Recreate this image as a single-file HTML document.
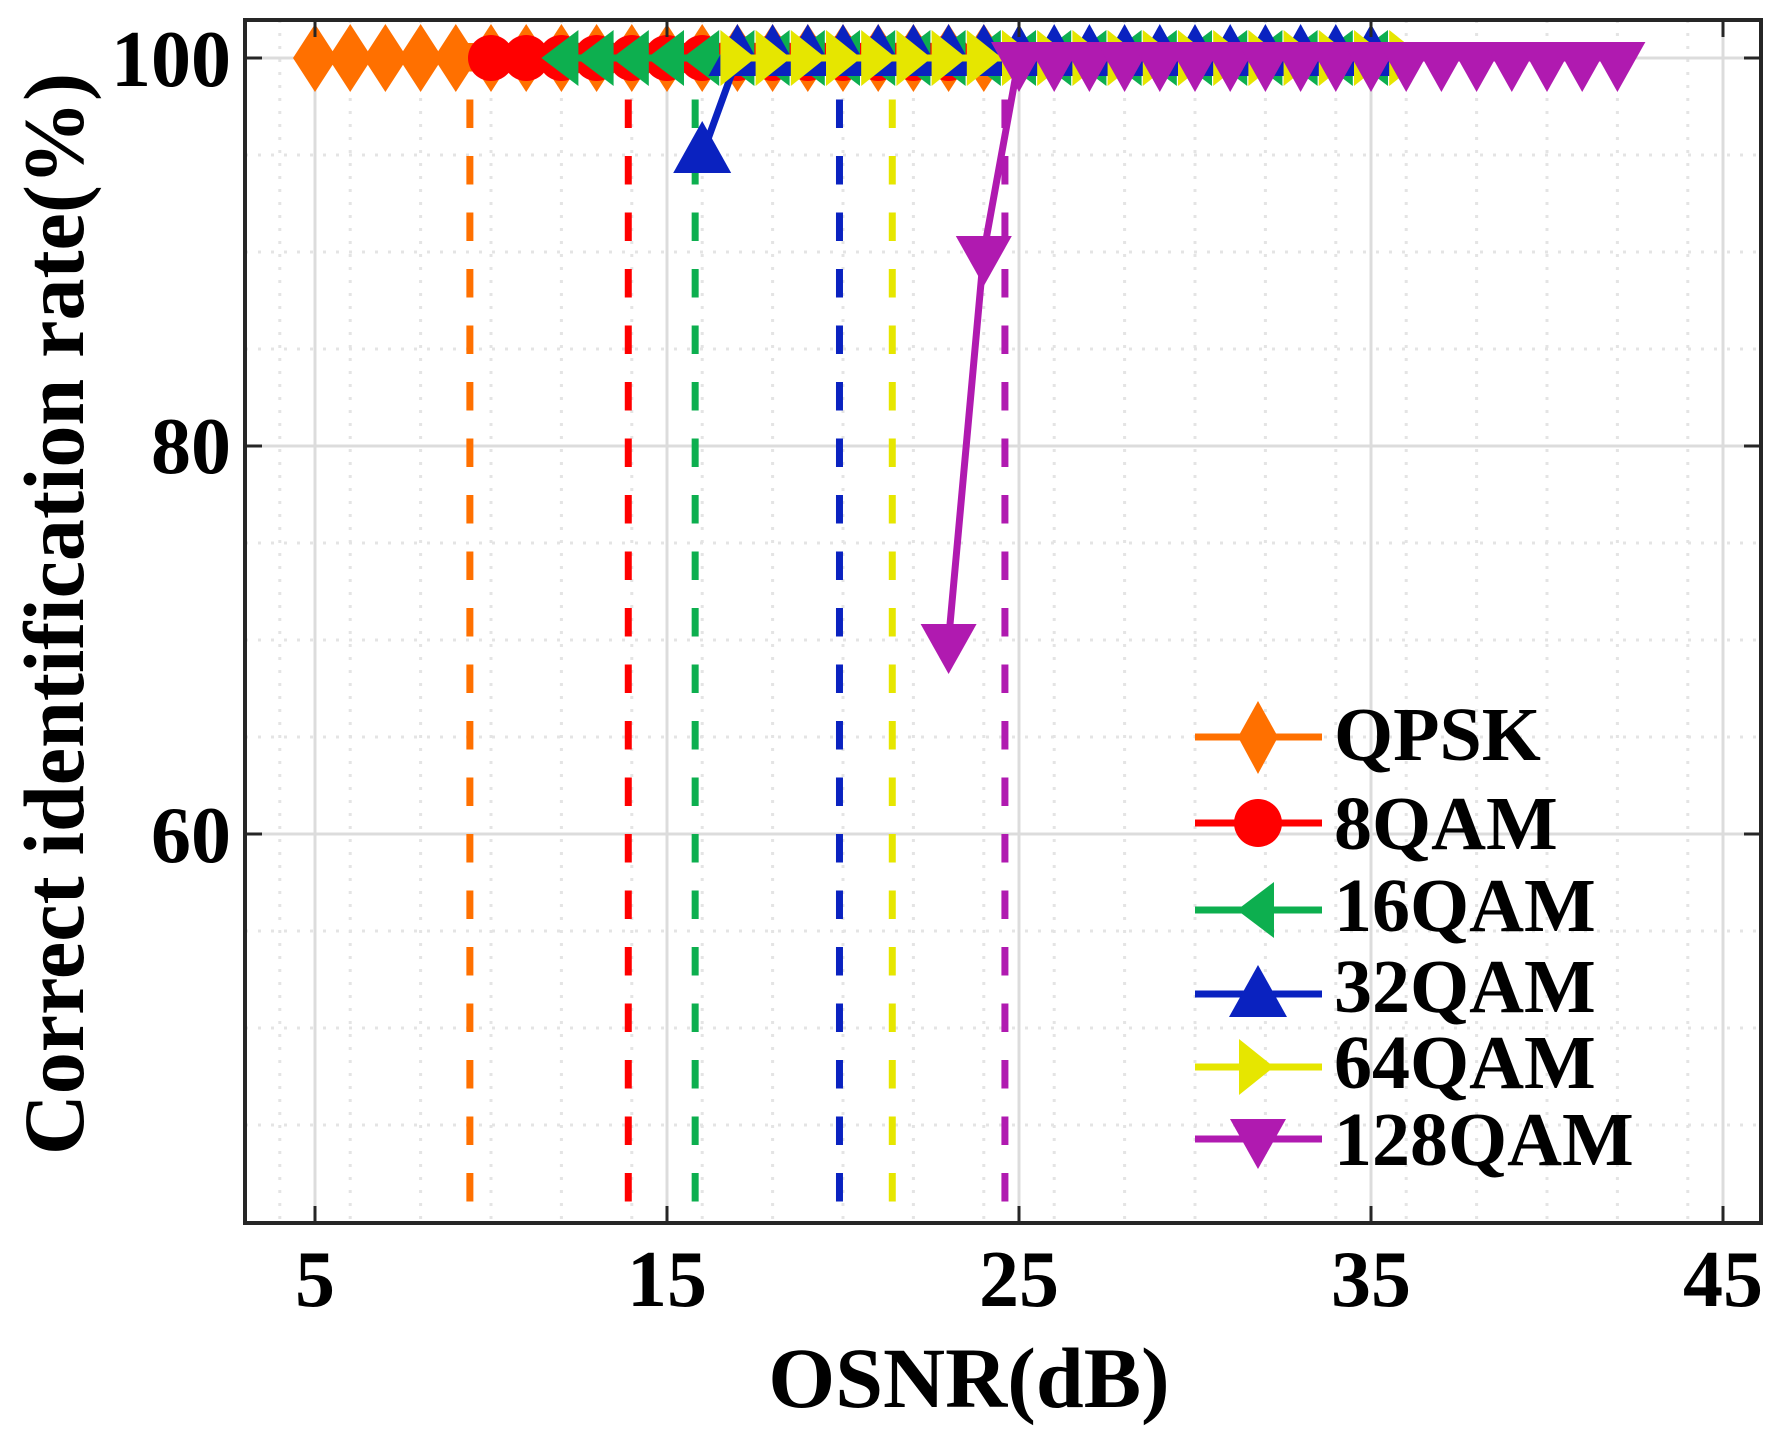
<!DOCTYPE html>
<html><head><meta charset="utf-8"><style>html,body{margin:0;padding:0;background:#fff}svg{display:block}</style></head>
<body>
<svg id="s" xmlns="http://www.w3.org/2000/svg" width="1787" height="1439" viewBox="0 0 1787 1439" font-family="'Liberation Serif',serif" font-weight="bold">
<rect width="1787" height="1439" fill="#fff"/>
<g id="grid"></g>
<g id="dash"></g>
<g id="series"></g>
<g id="axes"></g>
<g id="legend"></g>
<g font-size="80" text-anchor="middle">
<text x="315" y="1306">5</text><text x="667" y="1306">15</text><text x="1019" y="1306">25</text><text x="1371" y="1306">35</text><text x="1723" y="1306">45</text>
</g>
<g font-size="80" text-anchor="end">
<text x="231" y="86">100</text><text x="231" y="473">80</text><text x="231" y="862">60</text>
</g>
<text x="969" y="1407" font-size="86" text-anchor="middle">OSNR(dB)</text>
<text transform="translate(83,614) rotate(-90)" font-size="86" text-anchor="middle" textLength="1082" lengthAdjust="spacingAndGlyphs">Correct identification rate(%)</text>
<g font-size="76">
<text x="1334" y="760">QPSK</text><text x="1334" y="849">8QAM</text><text x="1334" y="931">16QAM</text><text x="1334" y="1012">32QAM</text><text x="1334" y="1088">64QAM</text><text x="1334" y="1165">128QAM</text>
</g>
</svg>
<script>
const NS="http://www.w3.org/2000/svg";
function el(p,t,a){const e=document.createElementNS(NS,t);for(const k in a)e.setAttribute(k,a[k]);document.getElementById(p).appendChild(e);return e;}
const L=245,R=1761,T=20,B=1223;
const X=v=>315+(v-5)*35.2, Y=v=>58+(100-v)*19.4;
// minor grid
for(let v=4;v<=44;v+=2){el("grid","line",{x1:X(v),x2:X(v),y1:T,y2:B,stroke:"#e4e4e4","stroke-width":3,"stroke-dasharray":"3 10"});}
for(let v=45;v<100;v+=5){if(v%20==0)continue;el("grid","line",{x1:L,x2:R,y1:Y(v),y2:Y(v),stroke:"#e4e4e4","stroke-width":3,"stroke-dasharray":"3 10"});}
for(let v=5;v<=45;v+=10)el("grid","line",{x1:X(v),x2:X(v),y1:T,y2:B,stroke:"#dcdcdc","stroke-width":3});
for(const v of[100,80,60])el("grid","line",{x1:L,x2:R,y1:Y(v),y2:Y(v),stroke:"#dcdcdc","stroke-width":3});
const C={o:"#FF7000",r:"#FF0000",g:"#0DAF4F",b:"#0A22C0",y:"#E6E600",p:"#B01AB0"};
// dashed thresholds
[[9.4,C.o],[13.9,C.r],[15.8,C.g],[19.9,C.b],[21.4,C.y],[24.6,C.p]].forEach(([v,c])=>{
el("dash","line",{x1:X(v),x2:X(v),y1:43,y2:B,stroke:c,"stroke-width":7,"stroke-dasharray":"28.5 28"});});
function mk(g,type,x,y,c){
 if(type=="d")el(g,"polygon",{points:`${x},${y-34} ${x+22},${y} ${x},${y+34} ${x-22},${y}`,fill:c});
 else if(type=="c")el(g,"circle",{cx:x,cy:y,r:23,fill:c});
 else if(type=="l")el(g,"polygon",{points:`${x-20},${y} ${x+17},${y-28} ${x+17},${y+28}`,fill:c});
 else if(type=="r")el(g,"polygon",{points:`${x+18},${y} ${x-17},${y-28} ${x-17},${y+28}`,fill:c});
 else if(type=="u")el(g,"polygon",{points:`${x},${y-34} ${x+29},${y+18} ${x-29},${y+18}`,fill:c});
 else if(type=="v")el(g,"polygon",{points:`${x},${y+34} ${x+28},${y-16} ${x-28},${y-16}`,fill:c});
}
function series(pts,type,c){
 el("series","polyline",{points:pts.map(p=>X(p[0])+","+Y(p[1])).join(" "),fill:"none",stroke:c,"stroke-width":7});
 pts.forEach(p=>mk("series",type,X(p[0]),Y(p[1]),c));
}
const rng=(a,b,f)=>{const r=[];for(let v=a;v<=b;v++)r.push([v,f?f(v):100]);return r;};
series(rng(5,24),"d",C.o);
series(rng(10,23),"c",C.r);
series(rng(12,35),"l",C.g);
series(rng(16,35,v=>v==16?95:100),"u",C.b);
series(rng(17,36),"r",C.y);
series(rng(23,42,v=>v==23?70:v==24?90:100),"v",C.p);
// axes
el("axes","rect",{x:L,y:T,width:R-L,height:B-T,fill:"none",stroke:"#262626","stroke-width":4});
for(let v=5;v<=45;v+=10){const x=X(v);el("axes","line",{x1:x,x2:x,y1:B,y2:B-17,stroke:"#262626","stroke-width":3});el("axes","line",{x1:x,x2:x,y1:T,y2:T+17,stroke:"#262626","stroke-width":3});}
for(const v of[100,80,60]){const y=Y(v);el("axes","line",{x1:L,x2:L+17,y1:y,y2:y,stroke:"#262626","stroke-width":3});el("axes","line",{x1:R,x2:R-17,y1:y,y2:y,stroke:"#262626","stroke-width":3});}
// legend
[["d",C.o,737],["c",C.r,823],["l",C.g,910],["u",C.b,994],["r",C.y,1067],["v",C.p,1139]].forEach(([t,c,y])=>{
 el("legend","line",{x1:1195,x2:1322,y1:y,y2:y,stroke:c,"stroke-width":7});
 let yy=y; if(t=="u")yy=y+5; if(t=="v")yy=y-4;
 if(t=="d")el("legend","polygon",{points:`1258,${y-36} 1278,${y} 1258,${y+37} 1238,${y}`,fill:c});
 else if(t=="c")el("legend","circle",{cx:1258,cy:y,r:24,fill:c});
 else mk("legend",t,t=="l"?1257:t=="r"?1256:1258,yy,c);
});
</script>
</body></html>
